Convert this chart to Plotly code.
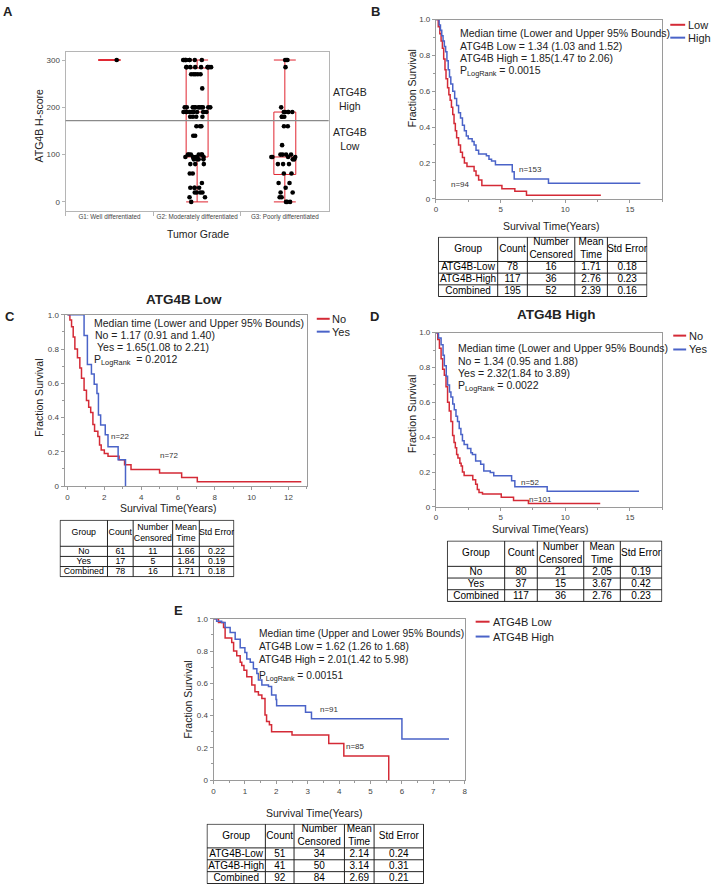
import plotly.graph_objects as go

W, H = 711, 892
FONT = "Liberation Sans, Arial, sans-serif"
RED = "#d42a36"
BLUE = "#4a63c8"
BOXRED = "#e0242f"
AXIS = "#9a9a9a"
TICKFONT = dict(family=FONT, size=8, color="#444444")


def px(x):
    return x / W


def py(y):
    return 1 - y / H


# ---------------- Panel A data ----------------
grade_labels = ["G1: Well differentiated", "G2: Moderately differentiated", "G3: Poorly differentiated"]
box_q1 = [300, 95, 58]
box_median = [300, 190, 95]
box_q3 = [300, 283, 190]
box_low = [300, 0, 0]
box_high = [300, 300, 300]
g1_scores = [300]
g2_scores = [300, 300, 300, 300, 300, 300, 300, 300, 300,
             285, 285, 285, 285, 285, 285, 285, 285, 285,
             270, 270, 270, 270, 270, 240,
             200, 200, 200, 200, 200, 200, 200, 200, 200, 200, 200,
             190, 190, 190, 190, 190, 190, 190, 190, 190, 190,
             180, 180, 180, 180, 160, 160, 160, 140, 140,
             100, 100, 100, 100, 100, 100, 95, 95, 95, 95, 95, 95,
             90, 90, 90, 90, 80, 80, 80, 60, 60, 40,
             30, 30, 30, 30, 20, 20, 20, 20, 10, 10, 0]
g3_scores = [300, 300, 300, 285, 200, 190, 190, 190, 190, 190,
             180, 180, 180, 160, 160, 120, 100, 100, 100, 100,
             95, 95, 95, 95, 90, 90, 80, 80, 80, 60, 60,
             40, 40, 30, 20, 20, 10, 10, 0, 0, 0]
hscore_cut = 172

# ---------------- Panel B data ----------------
b_low_t = [0, 0.18, 0.3, 0.4, 0.5, 0.6, 0.7, 0.78, 0.9, 1.0, 1.1, 1.2, 1.3, 1.4, 1.5, 1.6,
           1.75, 1.9, 2.05, 2.2, 2.4, 2.95, 3.1, 3.3, 3.55, 5.1, 6.1, 7.0, 12.75]
b_low_s = [1.0, 0.96, 0.92, 0.88, 0.84, 0.78, 0.72, 0.67, 0.62, 0.58, 0.55, 0.51, 0.47, 0.42, 0.38, 0.34,
           0.30, 0.26, 0.23, 0.20, 0.18, 0.155, 0.13, 0.105, 0.074, 0.055, 0.042, 0.02, 0.02]
b_high_t = [0, 0.25, 0.35, 0.45, 0.55, 0.65, 0.75, 0.85, 0.95, 1.05, 1.15, 1.3, 1.45, 1.6, 1.75,
            1.9, 2.05, 2.2, 2.35, 2.5, 2.8, 2.95, 3.1, 3.3, 3.9, 4.1, 4.3, 4.6, 5.9, 6.05, 8.7, 15.8]
b_high_s = [1.0, 0.97, 0.94, 0.91, 0.88, 0.85, 0.82, 0.77, 0.72, 0.68, 0.64, 0.60, 0.56, 0.52, 0.48,
            0.45, 0.41, 0.38, 0.35, 0.335, 0.32, 0.30, 0.27, 0.25, 0.24, 0.22, 0.21, 0.19, 0.15, 0.11, 0.087, 0.087]

# ---------------- Panel C data ----------------
c_no_t = [0, 0.13, 0.22, 0.31, 0.4, 0.54, 0.67, 0.76, 0.9, 1.03, 1.15, 1.26, 1.38, 1.47, 1.65,
          1.74, 1.83, 2.0, 2.2, 2.8, 3.1, 3.45, 5.0, 6.2, 7.05, 12.7]
c_no_s = [1.0, 0.97, 0.93, 0.87, 0.80, 0.75, 0.69, 0.63, 0.56, 0.50, 0.46, 0.43, 0.36, 0.32, 0.29,
          0.24, 0.21, 0.19, 0.174, 0.154, 0.125, 0.097, 0.077, 0.05, 0.025, 0.025]
c_yes_t = [0, 0.9, 1.08, 1.3, 1.45, 1.6, 1.68, 1.8, 2.05, 2.2, 2.75, 3.15]
c_yes_s = [1.0, 0.88, 0.71, 0.655, 0.595, 0.54, 0.415, 0.357, 0.30, 0.23, 0.154, 0.0]

# ---------------- Panel D data ----------------
d_no_t = [0, 0.14, 0.27, 0.4, 0.52, 0.65, 0.78, 0.9, 1.03, 1.16, 1.29, 1.4, 1.5, 1.6, 1.7,
          1.85, 1.95, 2.05, 2.18, 2.85, 3.07, 3.2, 3.33, 3.6, 5.05, 6.0, 7.15, 12.7]
d_no_s = [1.0, 0.96, 0.91, 0.85, 0.79, 0.755, 0.69, 0.60, 0.55, 0.49, 0.41, 0.37, 0.34, 0.30, 0.28,
          0.25, 0.235, 0.20, 0.18, 0.155, 0.13, 0.10, 0.083, 0.074, 0.055, 0.036, 0.02, 0.02]
d_yes_t = [0, 0.2, 0.4, 0.55, 0.65, 0.8, 0.9, 1.05, 1.16, 1.3, 1.42, 1.55, 1.67, 1.8, 1.93,
           2.05, 2.18, 2.44, 2.7, 2.82, 3.07, 3.46, 3.7, 4.2, 4.47, 5.85, 6.1, 8.6, 15.7]
d_yes_s = [1.0, 0.97, 0.93, 0.87, 0.81, 0.75, 0.70, 0.66, 0.63, 0.59, 0.557, 0.52, 0.49, 0.45, 0.415,
           0.38, 0.358, 0.335, 0.31, 0.30, 0.263, 0.244, 0.206, 0.197, 0.178, 0.15, 0.115, 0.089, 0.089]

# ---------------- Panel E data ----------------
e_low_t = [0, 0.16, 0.32, 0.37, 0.58, 0.64, 0.74, 0.85, 0.9, 0.97, 1.06, 1.22, 1.32, 1.43, 1.54,
           1.64, 1.69, 1.78, 1.85, 2.5, 3.67, 4.15, 5.58]
e_low_s = [1.0, 0.976, 0.945, 0.88, 0.853, 0.80, 0.77, 0.73, 0.71, 0.68, 0.64, 0.59, 0.547, 0.527, 0.506,
           0.404, 0.363, 0.343, 0.30, 0.28, 0.226, 0.149, 0.0]
e_high_t = [0, 0.1, 0.26, 0.37, 0.53, 0.69, 0.85, 1.0, 1.06, 1.17, 1.27, 1.38, 1.43, 1.54, 1.75,
            1.85, 1.99, 2.01, 2.93, 3.12, 6.0, 7.5]
e_high_s = [1.0, 0.985, 0.976, 0.945, 0.914, 0.873, 0.82, 0.79, 0.75, 0.73, 0.69, 0.66, 0.62, 0.59, 0.58,
            0.527, 0.50, 0.46, 0.42, 0.38, 0.255, 0.255]

# ---------------- Tables ----------------
table_header = ["Group", "Count", "Number<br>Censored", "Mean<br>Time", "Std Error"]
tab_b = [["ATG4B-Low", "ATG4B-High", "Combined"], ["78", "117", "195"], ["16", "36", "52"],
         ["1.71", "2.76", "2.39"], ["0.18", "0.23", "0.16"]]
tab_c = [["No", "Yes", "Combined"], ["61", "17", "78"], ["11", "5", "16"],
         ["1.66", "1.84", "1.71"], ["0.22", "0.19", "0.18"]]
tab_d = [["No", "Yes", "Combined"], ["80", "37", "117"], ["21", "15", "36"],
         ["2.05", "3.67", "2.76"], ["0.19", "0.42", "0.23"]]
tab_e = [["ATG4B-Low", "ATG4B-High", "Combined"], ["51", "41", "92"], ["34", "50", "84"],
         ["2.14", "3.14", "2.69"], ["0.24", "0.31", "0.21"]]

fig = go.Figure()
layout_axes = {}

# ---------- Panel A traces ----------
fig.add_trace(go.Box(
    x=grade_labels, q1=box_q1, median=box_median, q3=box_q3,
    lowerfence=box_low, upperfence=box_high, boxpoints=False,
    line=dict(color=BOXRED, width=1), fillcolor="rgba(0,0,0,0)",
    width=0.25, whiskerwidth=1, xaxis="x", yaxis="y", showlegend=False, hoverinfo="skip"))
pts_x = ([grade_labels[0]] * len(g1_scores) + [grade_labels[1]] * len(g2_scores)
         + [grade_labels[2]] * len(g3_scores))
pts_y = g1_scores + g2_scores + g3_scores
fig.add_trace(go.Box(
    x=pts_x, y=pts_y, boxpoints="all", jitter=1.0, pointpos=0, width=0.32,
    line=dict(color="rgba(0,0,0,0)", width=0), fillcolor="rgba(0,0,0,0)",
    marker=dict(color="black", size=4.6), xaxis="x", yaxis="y", showlegend=False))


def km(t, s, color, ax):
    fig.add_trace(go.Scatter(x=t, y=s, mode="lines", line=dict(color=color, width=1.5, shape="hv"),
                             xaxis="x" + ax, yaxis="y" + ax, showlegend=False))


km(b_low_t, b_low_s, RED, "2")
km(b_high_t, b_high_s, BLUE, "2")
km(c_no_t, c_no_s, RED, "3")
km(c_yes_t, c_yes_s, BLUE, "3")
km(d_no_t, d_no_s, RED, "4")
km(d_yes_t, d_yes_s, BLUE, "4")
km(e_low_t, e_low_s, RED, "5")
km(e_high_t, e_high_s, BLUE, "5")


def add_table(n, data, x0, x1, y0, y1, colw, hh, rh, size=10):
    """Table drawn on its own hidden axes: x in column-width units, y in row-height units."""
    nrow = len(data[0])
    total_w = sum(colw)
    total_h = hh + nrow * rh
    bounds = [0]
    for w in colw:
        bounds.append(bounds[-1] + w)
    rows = [0, hh] + [hh + (i + 1) * rh for i in range(nrow)]
    lx, ly = [], []
    for b in bounds:
        lx += [b, b, None]
        ly += [0, total_h, None]
    for r in rows:
        lx += [0, total_w, None]
        ly += [r, r, None]
    ax = str(n)
    fig.add_trace(go.Scatter(x=lx, y=ly, mode="lines", line=dict(color="#222", width=1),
                             xaxis="x" + ax, yaxis="y" + ax, showlegend=False, hoverinfo="skip"))
    cx = [(bounds[i] + bounds[i + 1]) / 2 for i in range(len(colw))]
    tx, ty, tt = [], [], []
    for j, h in enumerate(table_header):
        tx.append(cx[j]); ty.append(hh / 2); tt.append(h)
    for j, col in enumerate(data):
        for i, v in enumerate(col):
            tx.append(cx[j]); ty.append(hh + (i + 0.55) * rh); tt.append(v)
    fig.add_trace(go.Scatter(x=tx, y=ty, text=tt, mode="text", textposition="middle center",
                             textfont=dict(family=FONT, size=size, color="black"),
                             xaxis="x" + ax, yaxis="y" + ax, showlegend=False, hoverinfo="skip"))
    layout_axes["xaxis" + ax] = dict(domain=[px(x0), px(x1)], range=[-0.5, total_w + 0.5], visible=False,
                                     anchor="y" + ax, fixedrange=True)
    layout_axes["yaxis" + ax] = dict(domain=[py(y1), py(y0)], range=[total_h + 0.5, -0.5], visible=False,
                                     anchor="x" + ax, fixedrange=True)


add_table(6, tab_b, 439, 650, 235, 296, [60, 30, 48, 33, 40], 25, 12)
add_table(7, tab_c, 58, 234, 521, 579, [48, 26, 40, 27, 35], 27, 10.5, size=8.8)
add_table(8, tab_d, 448, 665, 542, 604, [58, 33, 47, 37, 42], 26, 12)
add_table(9, tab_e, 206, 425, 828, 889, [59, 29, 51, 30, 50], 24, 12)


# ---------- axes ----------
def km_axes(n, x0, x1, y0, y1, xr, dt, mdt):
    xa = dict(domain=[px(x0), px(x1)], range=xr, anchor="y" + n, showline=True, mirror=True,
              linecolor=AXIS, linewidth=1, ticks="outside", ticklen=3, tickcolor=AXIS,
              tick0=0, dtick=dt, tickfont=TICKFONT, showgrid=False, zeroline=False,
              minor=dict(ticks="outside", ticklen=2, dtick=mdt, tickcolor=AXIS))
    ya = dict(domain=[py(y1), py(y0)], range=[0, 1], anchor="x" + n, showline=True, mirror=True,
              linecolor=AXIS, linewidth=1, ticks="outside", ticklen=3, tickcolor=AXIS,
              tickvals=[0, 0.2, 0.4, 0.6, 0.8, 1.0], ticktext=["0", "0.2", "0.4", "0.6", "0.8", "1.0"],
              tickfont=TICKFONT, showgrid=False, zeroline=False,
              minor=dict(ticks="outside", ticklen=2, dtick=0.1, tickcolor=AXIS))
    layout_axes["xaxis" + n] = xa
    layout_axes["yaxis" + n] = ya


km_axes("2", 437, 665, 15.7, 196.7, [0, 17.5], 5, 2.5)
km_axes("3", 63, 307, 314, 487, [-0.16, 13.0], 2, 1)
km_axes("4", 437, 665, 332, 508, [0, 17.5], 5, 2.5)
km_axes("5", 213, 466, 621, 784, [0, 8], 1, 0.5)

fig.update_layout(
    width=W, height=H, margin=dict(l=0, r=0, t=0, b=0),
    paper_bgcolor="white", plot_bgcolor="white", showlegend=False,
    font=dict(family=FONT, color="#222"),
    boxmode="overlay",
    xaxis=dict(domain=[px(64), px(329)], anchor="y", type="category", categoryorder="array",
               categoryarray=grade_labels, range=[-0.5, 2.5], showline=True, mirror=True,
               linecolor="#b5b5b5", ticks="outside", tickson="boundaries", ticklen=4, tickangle=0,
               tickcolor="#b5b5b5", tickfont=dict(family=FONT, size=6.3, color="#444"), showgrid=False),
    yaxis=dict(domain=[py(209), py(48)], anchor="x", range=[-19, 318], showline=True, mirror=True,
               linecolor="#b5b5b5", ticks="outside", ticklen=3, tickcolor="#b5b5b5",
               tickvals=[0, 100, 200, 300], tickfont=TICKFONT, showgrid=False, zeroline=False),
    **layout_axes
)

# threshold line in A
fig.add_shape(type="line", xref="x domain", yref="y", x0=0, x1=1, y0=hscore_cut, y1=hscore_cut,
              line=dict(color="#8a8a8a", width=1.2))

ann = []


def text(x, y, s, size=10.5, xanchor="left", bold=False, color="#222", angle=0, yanchor="middle"):
    if bold:
        s = "<b>" + s + "</b>"
    ann.append(dict(x=px(x), y=py(y), xref="paper", yref="paper", text=s, showarrow=False,
                    xanchor=xanchor, yanchor=yanchor, textangle=angle, borderpad=0,
                    font=dict(family=FONT, size=size, color=color)))


def dtext(ax, x, y, s, size=8):
    ann.append(dict(x=x, y=y, xref="x" + ax, yref="y" + ax, text=s, showarrow=False,
                    xanchor="center", yanchor="middle", borderpad=0,
                    font=dict(family=FONT, size=size, color="#333")))


# panel letters
text(6, 8, "A", 13, bold=True, xanchor="center")
text(376, 8, "B", 13, bold=True, xanchor="center")
text(8, 316, "C", 13, bold=True, xanchor="center")
text(375, 316, "D", 13, bold=True, xanchor="center")
text(178, 613, "E", 13, bold=True, xanchor="center")

# panel A labels
text(37, 123, "ATG4B H-score", 10.5, xanchor="center", angle=-90)
text(197, 232, "Tumor Grade", 10.5, xanchor="center")
text(350, 96, "ATG4B<br>High", 10.5, xanchor="center")
text(350, 136, "ATG4B<br>Low", 10.5, xanchor="center")

# panel B
text(413, 85, "Fraction Survival", 10.5, xanchor="center", angle=-90)
text(553, 224, "Survival Time(Years)", 10.5, xanchor="center")
text(460, 29, "Median time (Lower and Upper 95% Bounds)")
text(460, 42, "ATG4B Low = 1.34 (1.03 and 1.52)")
text(460, 55, "ATG4B High = 1.85(1.47 to 2.06)")
text(460, 68, "P<sub>LogRank</sub> = 0.0015")
text(690, 21, "Low", 11)
text(690, 34, "High", 11)
dtext("2", 7.3, 0.164, "n=153")
dtext("2", 1.9, 0.081, "n=94")

# panel C
text(183, 299, "ATG4B Low", 13.5, bold=True, xanchor="center")
text(37, 398, "Fraction Survival", 10.5, xanchor="center", angle=-90)
text(167, 509, "Survival Time(Years)", 10.5, xanchor="center")
text(92, 322, "Median time (Lower and Upper 95% Bounds)")
text(93, 334, "No = 1.17 (0.91 and 1.40)")
text(95, 347, "Yes = 1.65(1.08 to 2.21)")
text(92, 360, "P<sub>LogRank</sub>  = 0.2012")
text(331, 318, "No", 11)
text(331, 331, "Yes", 11)
dtext("3", 2.9, 0.29, "n=22")
dtext("3", 5.55, 0.18, "n=72")

# panel D
text(558, 314, "ATG4B High", 13.5, bold=True, xanchor="center")
text(413, 414, "Fraction Survival", 10.5, xanchor="center", angle=-90)
text(542, 530, "Survival Time(Years)", 10.5, xanchor="center")
text(458, 348, "Median time (Lower and Upper 95% Bounds)")
text(458, 361, "No = 1.34 (0.95 and 1.88)")
text(458, 373, "Yes = 2.32(1.84 to 3.89)")
text(458, 386, "P<sub>LogRank</sub> = 0.0022")
text(691, 335, "No", 11)
text(691, 349, "Yes", 11)
dtext("4", 7.3, 0.142, "n=52")
dtext("4", 8.05, 0.04, "n=101")

# panel E
text(187, 703, "Fraction Survival", 10.5, xanchor="center", angle=-90)
text(314, 817, "Survival Time(Years)", 10.5, xanchor="center")
text(258, 636, "Median time (Upper and Lower 95% Bounds)", 10.25)
text(258, 649, "ATG4B Low = 1.62 (1.26 to 1.68)", 10.25)
text(258, 662, "ATG4B High = 2.01(1.42 to 5.98)", 10.25)
text(258, 679, "P<sub>LogRank</sub> = 0.00151", 10.25)
text(493, 624, "ATG4B Low", 11)
text(493, 639, "ATG4B High", 11)
dtext("5", 3.7, 0.435, "n=91")
dtext("5", 4.53, 0.21, "n=85")

fig.update_layout(annotations=ann)

# legend keys
for (x0, x1, y, c) in [(673, 688, 21, RED), (673, 688, 34, BLUE), (317, 330, 318, RED), (317, 330, 331, BLUE),
                       (676, 689, 335, RED), (676, 689, 349, BLUE), (477, 491, 624, RED), (477, 491, 639, BLUE)]:
    fig.add_shape(type="line", xref="paper", yref="paper", x0=px(x0), x1=px(x1), y0=py(y), y1=py(y),
                  line=dict(color=c, width=2))

fig.write_html("out.html", config={"displayModeBar": False},
               post_script="document.body.style.margin='0';document.body.style.overflow='hidden';")
